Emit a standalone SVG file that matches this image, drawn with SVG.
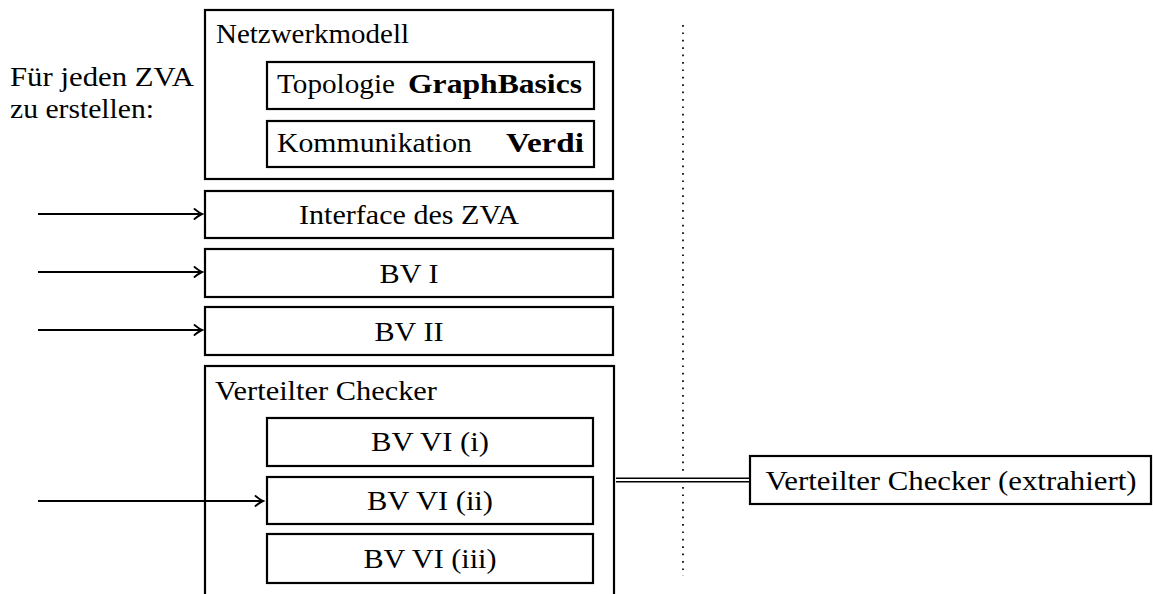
<svg xmlns="http://www.w3.org/2000/svg" width="1153" height="594" viewBox="0 0 1153 594">
  <style>
    text { font-family: 'Liberation Serif', 'DejaVu Serif', 'Times New Roman', serif; font-size: 27.5px; fill: #000; }
    .b { font-weight: bold; }
    .c { text-anchor: middle; }
    .box { fill: #fff; stroke: #000; stroke-width: 2.2; }
    .arr { fill: none; stroke: #000; stroke-width: 1.9; }
    .dot { fill: none; stroke: #000; stroke-width: 1.7; stroke-dasharray: 1.7 5.7; }
  </style>
  <defs>
    <marker id="ah" viewBox="-9 -6 11 12" refX="0" refY="0" markerWidth="11" markerHeight="12" markerUnits="userSpaceOnUse" orient="auto">
      <path d="M-7.5,-5 Q-2.5,-1 0,0 Q-2.5,1 -7.5,5" fill="none" stroke="#000" stroke-width="1.9" stroke-linecap="round"/>
    </marker>
  </defs>
  <rect width="1153" height="594" fill="#fff"/>

  <g id="label-left">
    <text x="10" y="86" textLength="184" lengthAdjust="spacingAndGlyphs">Für jeden ZVA</text>
    <text x="10" y="118" textLength="144" lengthAdjust="spacingAndGlyphs">zu erstellen:</text>
  </g>

  <g id="netzwerkmodell">
    <rect class="box" x="205" y="10" width="408" height="169"/>
    <text x="216" y="43" textLength="193" lengthAdjust="spacingAndGlyphs">Netzwerkmodell</text>
  </g>
  <g id="topologie">
    <rect class="box" x="267" y="62" width="327" height="47"/>
    <text x="277" y="93" textLength="118" lengthAdjust="spacingAndGlyphs">Topologie</text>
    <text class="b" x="408" y="93" textLength="174" lengthAdjust="spacingAndGlyphs">GraphBasics</text>
  </g>
  <g id="kommunikation">
    <rect class="box" x="267" y="121" width="327" height="46"/>
    <text x="277" y="152" textLength="195" lengthAdjust="spacingAndGlyphs">Kommunikation</text>
    <text class="b" x="506" y="152" textLength="78" lengthAdjust="spacingAndGlyphs">Verdi</text>
  </g>

  <g id="interface">
    <rect class="box" x="205" y="191" width="408" height="47"/>
    <text class="c" x="409" y="224" textLength="220" lengthAdjust="spacingAndGlyphs">Interface des ZVA</text>
  </g>
  <g id="bv1">
    <rect class="box" x="205" y="249" width="408" height="48"/>
    <text class="c" x="409" y="282.5" textLength="59" lengthAdjust="spacingAndGlyphs">BV I</text>
  </g>
  <g id="bv2">
    <rect class="box" x="205" y="307" width="408" height="48"/>
    <text class="c" x="409" y="340.5" textLength="69" lengthAdjust="spacingAndGlyphs">BV II</text>
  </g>

  <g id="verteilter-checker">
    <rect class="box" x="205" y="366" width="409" height="232"/>
    <text x="215" y="400" textLength="222" lengthAdjust="spacingAndGlyphs">Verteilter Checker</text>
  </g>
  <g id="bv6i">
    <rect class="box" x="267" y="418" width="326" height="48"/>
    <text class="c" x="430" y="451" textLength="118" lengthAdjust="spacingAndGlyphs">BV VI (i)</text>
  </g>
  <g id="bv6ii">
    <rect class="box" x="267" y="477" width="326" height="47"/>
    <text class="c" x="430" y="510" textLength="126" lengthAdjust="spacingAndGlyphs">BV VI (ii)</text>
  </g>
  <g id="bv6iii">
    <rect class="box" x="267" y="534" width="326" height="49"/>
    <text class="c" x="430" y="568" textLength="133" lengthAdjust="spacingAndGlyphs">BV VI (iii)</text>
  </g>

  <g id="extrahiert">
    <rect class="box" x="750" y="456" width="401" height="48"/>
    <text class="c" x="951" y="489.5" textLength="371" lengthAdjust="spacingAndGlyphs">Verteilter Checker (extrahiert)</text>
  </g>

  <g id="connectors">
    <line class="dot" x1="683" y1="25" x2="683" y2="472"/>
    <line class="dot" x1="683" y1="487" x2="683" y2="576"/>
    <line class="arr" x1="38" y1="214" x2="202" y2="214" marker-end="url(#ah)"/>
    <line class="arr" x1="38" y1="272" x2="202" y2="272" marker-end="url(#ah)"/>
    <line class="arr" x1="38" y1="330" x2="202" y2="330" marker-end="url(#ah)"/>
    <line class="arr" x1="38" y1="501" x2="263" y2="501" marker-end="url(#ah)"/>
    <line x1="616" y1="480" x2="749" y2="480" stroke="#000" stroke-width="5"/>
    <line x1="616" y1="480" x2="749" y2="480" stroke="#fff" stroke-width="1.8"/>
  </g>
</svg>
